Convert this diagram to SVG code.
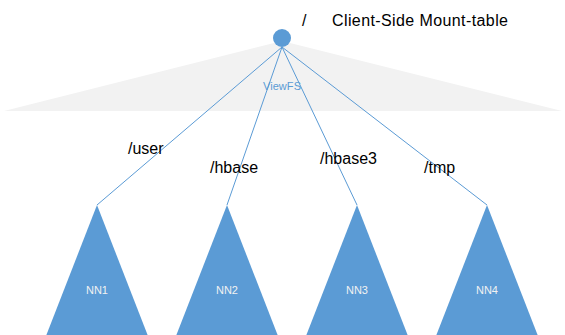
<svg xmlns="http://www.w3.org/2000/svg" width="565" height="335" viewBox="0 0 565 335">
<style>
.lbl{font-family:"Liberation Sans",Arial,sans-serif;font-size:16px;fill:#000}
.nn{fill:#5B9BD5}
.nnt{font-family:"Liberation Sans",Arial,sans-serif;font-size:11px;fill:#F2F2F2;text-anchor:middle}
.conn{stroke:#5B9BD5;stroke-width:1;fill:none}
</style>
<rect width="565" height="335" fill="#FFFFFF"/>
<g id="viewfs-area">
<polygon points="282,41 4,111 562,111" fill="#F2F2F2"/>
<text x="263" y="90" font-family="Liberation Sans,Arial,sans-serif" font-size="11" fill="#5B9BD5" textLength="38">ViewFS</text>
</g>
<g id="connectors">
<line class="conn" x1="282" y1="47" x2="97" y2="205"/>
<line class="conn" x1="282" y1="47" x2="227" y2="205"/>
<line class="conn" x1="282" y1="47" x2="357" y2="205"/>
<line class="conn" x1="282" y1="47" x2="487" y2="205"/>
</g>
<g id="root">
<circle cx="282" cy="38" r="9" fill="#5B9BD5"/>
<text class="lbl" x="302" y="26">/</text>
<text class="lbl" x="332" y="26" textLength="176">Client-Side Mount-table</text>
</g>
<g id="labels">
<text class="lbl" x="128" y="154">/user</text>
<text class="lbl" x="210" y="173">/hbase</text>
<text class="lbl" x="320" y="164">/hbase3</text>
<text class="lbl" x="424" y="173">/tmp</text>
</g>
<g id="nn1">
<polygon class="nn" points="97,205 46,336 148,336"/>
<text class="nnt" x="97" y="294">NN1</text>
</g>
<g id="nn2">
<polygon class="nn" points="227,205 176,336 278,336"/>
<text class="nnt" x="227" y="294">NN2</text>
</g>
<g id="nn3">
<polygon class="nn" points="357,205 306,336 408,336"/>
<text class="nnt" x="357" y="294">NN3</text>
</g>
<g id="nn4">
<polygon class="nn" points="487,205 436,336 538,336"/>
<text class="nnt" x="487" y="294">NN4</text>
</g>
</svg>
